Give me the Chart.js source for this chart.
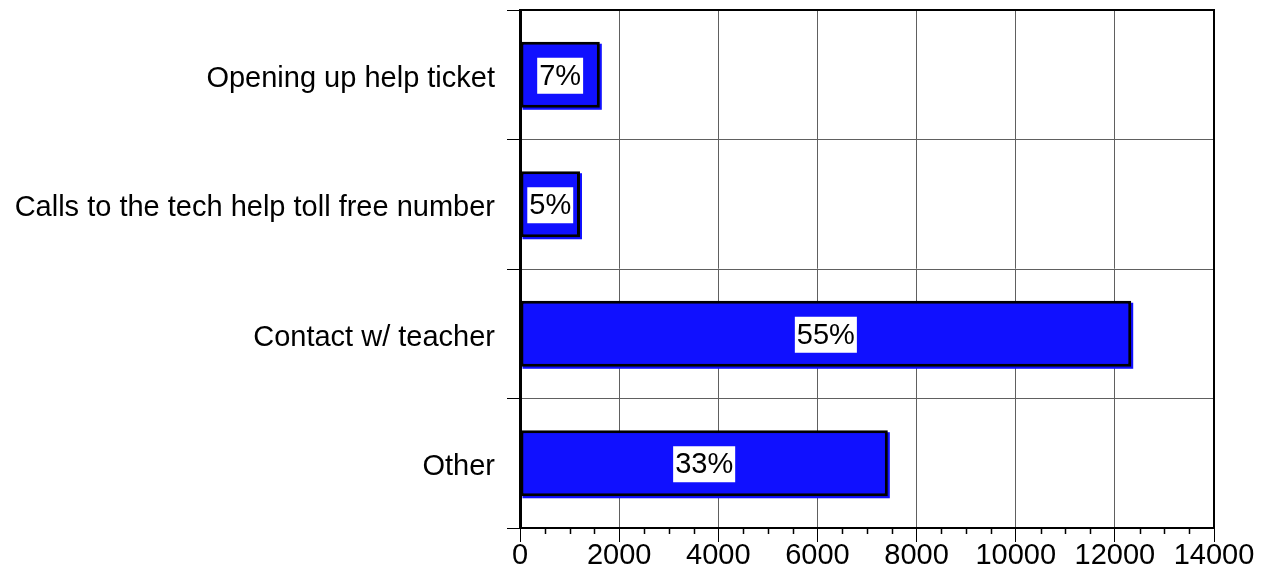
<!DOCTYPE html>
<html lang="en">
<head>
    <meta charset="UTF-8">
    <title>Help requests</title>
    <style>
        body { margin: 0; background: #fff; }
        .chart-container { width: 1264px; height: 582px; }
    </style>
    <script src="https://cdn.jsdelivr.net/npm/chart.js"></script>
</head>
<body>
    <div class="chart-container"><canvas id="chart"></canvas></div>
    <script>
        const categories = ['Opening up help ticket', 'Calls to the tech help toll free number', 'Contact w/ teacher', 'Other'];
        const counts = [1610, 1210, 12330, 7420];
        const shares = ['7%', '5%', '55%', '33%'];
        const xTicks = [0, 2000, 4000, 6000, 8000, 10000, 12000, 14000];

        const FONT = '"Liberation Sans", Arial, sans-serif';

        // blue drop shadow right/below each bar
        const barShadow = {
            id: 'barShadow',
            beforeDatasetsDraw(chart) {
                const ctx = chart.ctx;
                ctx.save();
                ctx.fillStyle = '#1010ff';
                chart.getDatasetMeta(0).data.forEach(bar => {
                    const h = bar.height;
                    ctx.fillRect(bar.base + 2, bar.y - h / 2 + 2, bar.x - bar.base, h);
                });
                ctx.restore();
            }
        };

        // white boxes with the share in the middle of each bar
        const shareLabels = {
            id: 'shareLabels',
            afterDatasetsDraw(chart) {
                const ctx = chart.ctx;
                const bars = chart.getDatasetMeta(0).data;
                ctx.save();
                ctx.font = '29px ' + FONT;
                ctx.textAlign = 'center';
                ctx.textBaseline = 'middle';
                bars.forEach((bar, i) => {
                    const cx = (bar.x + bar.base) / 2;
                    const cy = bar.y + 1;
                    const w = ctx.measureText(shares[i]).width + 4;
                    ctx.fillStyle = '#fff';
                    ctx.fillRect(cx - w / 2, cy - 18, w, 36);
                    ctx.fillStyle = '#000';
                    ctx.fillText(shares[i], cx, cy + 1);
                });
                ctx.restore();
            }
        };

        // frame round the plot and minor ticks on the value axis
        const frame = {
            id: 'frame',
            afterDraw(chart) {
                const ctx = chart.ctx;
                const a = chart.chartArea;
                const x = chart.scales.x;
                ctx.save();
                ctx.strokeStyle = '#000';
                ctx.lineWidth = 2;
                ctx.beginPath();
                ctx.moveTo(a.left, a.top);
                ctx.lineTo(a.right, a.top);
                ctx.lineTo(a.right, a.bottom);
                ctx.stroke();
                ctx.lineWidth = 1.5;
                ctx.beginPath();
                for (let v = 0; v <= 14000; v += 500) {
                    if (v % 2000 === 0) continue;
                    const px = Math.round(x.getPixelForValue(v)) + 0.5;
                    ctx.moveTo(px, a.bottom);
                    ctx.lineTo(px, a.bottom + 6);
                }
                ctx.stroke();
                ctx.restore();
            }
        };

        new Chart(document.getElementById('chart'), {
            type: 'bar',
            data: {
                labels: categories,
                datasets: [{
                    data: counts,
                    backgroundColor: '#1010ff',
                    borderColor: '#000',
                    borderWidth: 3,
                    borderSkipped: false,
                    barPercentage: 0.51,
                    categoryPercentage: 1
                }]
            },
            options: {
                indexAxis: 'y',
                responsive: true,
                maintainAspectRatio: false,
                animation: false,
                layout: { padding: { top: 10, right: 50, left: 0, bottom: 0 } },
                plugins: {
                    legend: { display: false },
                    tooltip: { enabled: false }
                },
                scales: {
                    x: {
                        min: 0,
                        max: 14000,
                        afterBuildTicks(scale) {
                            scale.ticks = xTicks.map(v => ({ value: v }));
                        },
                        afterFit(scale) { scale.height = 54; },
                        grid: { color: '#606060', lineWidth: 1, tickLength: 14, tickColor: '#000' },
                        border: { color: '#000', width: 2 },
                        ticks: {
                            color: '#000',
                            font: { family: FONT, size: 29 },
                            padding: -3,
                            maxRotation: 0,
                            callback: v => String(v)
                        }
                    },
                    y: {
                        afterFit(scale) {
                            scale.width = 520;
                            scale.paddingTop = 0;
                            scale.paddingBottom = 0;
                        },
                        grid: { offset: true, color: '#606060', lineWidth: 1, tickLength: 13, tickColor: '#000' },
                        border: { color: '#000', width: 3 },
                        ticks: { color: '#000', font: { family: FONT, size: 29 }, padding: 12, labelOffset: 4 }
                    }
                }
            },
            plugins: [barShadow, shareLabels, frame]
        });
    </script>
</body>
</html>
